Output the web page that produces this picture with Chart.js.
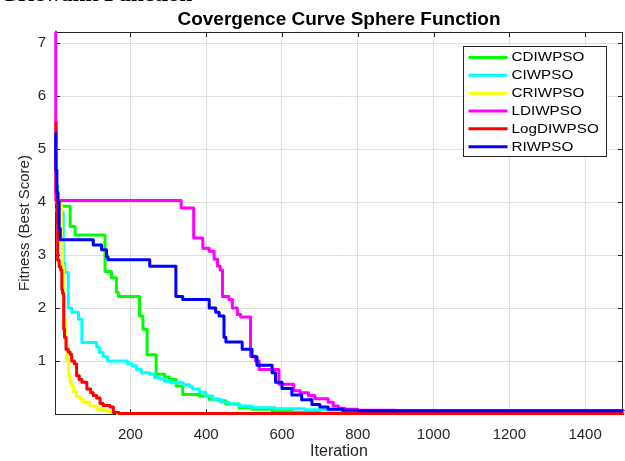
<!DOCTYPE html>
<html><head><meta charset="utf-8">
<script src="https://cdn.jsdelivr.net/npm/chart.js@4.4.1/dist/chart.umd.min.js"></script>
<style>
html,body{margin:0;padding:0;background:#fff;overflow:hidden;}
#wrap{position:relative;width:625px;height:461px;overflow:hidden;}
#cap{position:absolute;left:0;top:-18px;font:bold 23px "Liberation Serif","Times New Roman",serif;line-height:23px;color:#000;white-space:nowrap;}
canvas{position:absolute;left:0;top:0;}
</style></head><body>
<div id="wrap"><canvas id="c" width="625" height="461"></canvas><div id="cap">Griewank Function</div></div>
<script>
const titleText = 'Covergence Curve Sphere Function';
const xLabel = 'Iteration';
const yLabel = 'Fitness (Best Score)';
const seriesNames = ['CDIWPSO','CIWPSO','CRIWPSO','LDIWPSO','LogDIWPSO','RIWPSO'];
const seriesColors = ['#00ff00','#00ffff','#ffff00','#ff00ff','#ff0000','#0000ff'];
const xTicks = [200,400,600,800,1000,1200,1400];
const yTicks = [1,2,3,4,5,6,7];

// CDIWPSO (green)
const cdiIter = [1,5,8,41,54,133,150,163,168,224,233,244,268,290,303,321,338,382,408,434,451,487,521,574,626,700,1500];
const cdiVal  = [4.55,4.3,3.92,3.54,3.38,2.69,2.57,2.3,2.22,1.85,1.6,1.12,0.75,0.7,0.65,0.53,0.37,0.34,0.28,0.25,0.19,0.12,0.09,0.06,0.03,0.015,0.015];
// CIWPSO (cyan)
const ciIter = [1,14,23,27,36,45,63,72,111,118,128,140,192,205,216,229,251,264,277,290,307,340,356,364,382,399,417,439,460,487,521,582,661,760,900,1500];
const ciVal  = [3.85,3.81,2.85,2.67,2.0,1.92,1.79,1.35,1.26,1.16,1.08,1.0,0.95,0.91,0.84,0.78,0.75,0.69,0.66,0.62,0.59,0.55,0.52,0.47,0.41,0.34,0.28,0.22,0.19,0.15,0.12,0.1,0.08,0.06,0.045,0.04];
// CRIWPSO (yellow)
const criIter = [1,18,21,23,26,28,32,37,41,45,50,58,67,76,93,111,128,146,165,1500];
const criVal  = [4.0,3.25,2.8,2.2,1.8,1.41,1.03,0.72,0.6,0.53,0.42,0.33,0.28,0.22,0.15,0.09,0.06,0.03,0.008,0.005];
// LDIWPSO (magenta)
const ldiIter = [1,3,334,367,391,408,421,430,437,443,460,469,482,491,517,530,540,592,631,648,670,687,722,735,749,766,800,900,1500];
const ldiVal  = [7.21,4.03,3.89,3.32,3.13,3.07,2.92,2.79,2.72,2.22,2.16,2.0,1.88,1.83,1.09,1.0,0.84,0.56,0.44,0.4,0.35,0.29,0.22,0.15,0.11,0.09,0.07,0.06,0.055];
// LogDIWPSO (red)
const logIter = [1,4,6,8,12,16,19,21,24,26,30,36,41,45,52,58,65,72,85,95,102,111,120,128,146,155,170,1500];
const logVal  = [5.5,4.2,3.6,2.9,2.78,2.72,2.35,2.28,1.6,1.45,1.22,1.17,1.13,1.0,0.95,0.72,0.65,0.6,0.47,0.4,0.35,0.3,0.2,0.16,0.13,0.03,0.01,0.003];
// RIWPSO (blue)
const riIter = [1,3,6,9,12,15,102,124,137,141,251,320,338,408,425,434,447,452,495,521,534,574,583,600,626,652,679,700,722,760,800,1500];
const riVal  = [5.3,4.6,4.18,4.0,3.5,3.29,3.19,3.1,2.97,2.91,2.79,2.22,2.16,2.0,1.92,1.85,1.45,1.36,1.22,1.08,0.92,0.78,0.6,0.48,0.36,0.27,0.18,0.13,0.09,0.07,0.06,0.055];

const seriesIter = [cdiIter, ciIter, criIter, ldiIter, logIter, riIter];
const seriesVal = [cdiVal, ciVal, criVal, ldiVal, logVal, riVal];

const FONT = '"Liberation Sans", Arial, Helvetica, sans-serif';
const AXC = '#262626';

const datasets = seriesNames.map((name, i) => ({
  label: name,
  data: seriesIter[i].map((x, k) => ({x: x, y: seriesVal[i][k]})),
  borderColor: seriesColors[i],
  backgroundColor: seriesColors[i],
  borderWidth: 3,
  pointRadius: 0,
  stepped: true,
  fill: false,
  clip: 3,
  order: seriesNames.length - i,
  borderJoinStyle: 'round'
}));

const framePlugin = {
  id: 'frame',
  beforeDatasetsDraw(chart) {
    const {ctx, chartArea: a, scales: {x, y}} = chart;
    ctx.save();
    ctx.strokeStyle = AXC; ctx.lineWidth = 1;
    ctx.beginPath();
    ctx.moveTo(a.left, Math.round(a.top) + 0.5); ctx.lineTo(a.right, Math.round(a.top) + 0.5);
    ctx.moveTo(Math.round(a.right) - 0.5, a.top); ctx.lineTo(Math.round(a.right) - 0.5, a.bottom);
    const L = 5;
    xTicks.forEach(v => {
      const px = Math.round(x.getPixelForValue(v)) + 0.5;
      ctx.moveTo(px, a.bottom); ctx.lineTo(px, a.bottom - L);
      ctx.moveTo(px, a.top); ctx.lineTo(px, a.top + L);
    });
    yTicks.forEach(v => {
      const py = Math.round(y.getPixelForValue(v)) + 0.5;
      ctx.moveTo(a.left, py); ctx.lineTo(a.left + L, py);
      ctx.moveTo(a.right, py); ctx.lineTo(a.right - L, py);
    });
    ctx.stroke();
    ctx.restore();
  }
};

const legendPlugin = {
  id: 'boxLegend',
  afterDatasetsDraw(chart) {
    const {ctx, chartArea: a} = chart;
    const bw = 143, bh = 110;
    const bx = Math.round(a.right - 17 - bw) + 0.5;
    const by = Math.round(a.top + 14) + 0.5;
    ctx.save();
    ctx.fillStyle = '#fff'; ctx.fillRect(bx, by, bw, bh);
    ctx.strokeStyle = AXC; ctx.lineWidth = 1; ctx.strokeRect(bx, by, bw, bh);
    ctx.font = '12px ' + FONT;
    ctx.textBaseline = 'middle';
    ctx.textAlign = 'left';
    chart.data.datasets.forEach((ds, i) => {
      const yy = by + 11 + i * 17.84;
      ctx.strokeStyle = ds.borderColor; ctx.lineWidth = 3;
      ctx.beginPath(); ctx.moveTo(bx + 5, yy); ctx.lineTo(bx + 44, yy); ctx.stroke();
      ctx.save();
      ctx.translate(bx + 48, yy + 0.5);
      ctx.scale(1.27, 1);
      ctx.fillStyle = '#000';
      ctx.fillText(ds.label, 0, 0);
      ctx.restore();
    });
    ctx.restore();
  }
};

new Chart(document.getElementById('c'), {
  type: 'line',
  data: {datasets: datasets},
  plugins: [framePlugin, legendPlugin],
  options: {
    responsive: false,
    animation: false,
    devicePixelRatio: 1,
    layout: {padding: {top: 0, right: 2, left: 0, bottom: 0}},
    plugins: {
      legend: {display: false},
      tooltip: {enabled: false},
      title: {
        display: true, text: titleText, fullSize: false, color: '#000',
        font: {family: FONT, size: 19, weight: 'bold'},
        padding: {top: 8, bottom: 1.2}
      }
    },
    scales: {
      x: {
        type: 'linear', min: 1, max: 1500,
        afterBuildTicks: s => { s.ticks = xTicks.map(v => ({value: v})); },
        afterFit: s => { s.height = 47; },
        grid: {color: '#dfdfdf', drawTicks: false},
        border: {display: true, color: AXC, width: 1},
        ticks: {color: AXC, font: {family: FONT, size: 15}, padding: 12, autoSkip: false, maxRotation: 0, callback: v => String(v)},
        title: {display: true, text: xLabel, color: AXC, font: {family: FONT, size: 16}, padding: {top: 0, bottom: 0}}
      },
      y: {
        type: 'linear', min: 0, max: 7.21,
        afterBuildTicks: s => { s.ticks = yTicks.map(v => ({value: v})); },
        afterFit: s => { s.width = 55; },
        grid: {color: '#dfdfdf', drawTicks: false},
        border: {display: true, color: AXC, width: 1},
        ticks: {color: AXC, font: {family: FONT, size: 15}, padding: 9, autoSkip: false, callback: v => String(v)},
        title: {display: true, text: yLabel, color: AXC, font: {family: FONT, size: 15}, padding: {top: 16, bottom: 0}}
      }
    }
  }
});
</script>
</body></html>
